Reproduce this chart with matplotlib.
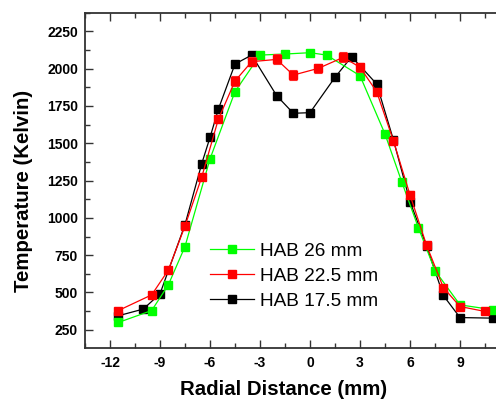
import matplotlib
matplotlib.use('Agg')
import matplotlib.pyplot as plt
from matplotlib.ticker import MultipleLocator

plt.rcParams['font.family'] = ['Liberation Sans', 'DejaVu Sans']

# HAB 26 mm
x_26 = [-11.5, -9.5, -8.5, -7.5, -6.0, -4.5, -3.0, -1.5, 0.0, 1.0, 3.0, 4.5, 5.5, 6.5, 7.5, 9.0, 11.0]
t_26 = [299, 379, 551, 808, 1395, 1846, 2091, 2098, 2107, 2091, 1953, 1562, 1243, 935, 647, 417, 384]

# HAB 22.5 mm (with error bars)
x_225 = [-11.5, -9.5, -8.5, -7.5, -6.5, -5.5, -4.5, -3.5, -2.0, -1.0, 0.5, 2.0, 3.0, 4.0, 5.0, 6.0, 7.0, 8.0, 9.0, 10.5]
t_225 = [379, 484, 650, 946, 1272, 1661, 1917, 2047, 2062, 1957, 2002, 2076, 2009, 1846, 1518, 1154, 815, 533, 406, 373]
e_225 = [10, 10, 12, 15, 15, 15, 35, 30, 33, 36, 30, 33, 30, 25, 20, 25, 15, 12, 12, 10]

# HAB 17.5 mm
x_175 = [-11.5, -10.0, -9.0, -7.5, -6.5, -6.0, -5.5, -4.5, -3.5, -2.0, -1.0, 0.0, 1.5, 2.5, 4.0, 5.0, 6.0, 7.0, 8.0, 9.0, 11.0]
t_175 = [344, 389, 491, 955, 1362, 1539, 1728, 2031, 2091, 1819, 1701, 1705, 1942, 2080, 1897, 1525, 1109, 810, 480, 332, 328]

x_ticks = [-12, -9, -6, -3, 0, 3, 6, 9, 12]
x_ticklabels = ['-12', '-9', '-6', '-3', '0', '3', '6', '9', '']
y_ticks = [250, 500, 750, 1000, 1250, 1500, 1750, 2000, 2250]

fig = plt.figure(figsize=(4.96, 4.01), dpi=100)
# axes runs past the right edge of the canvas
ax = fig.add_axes([85 / 496, (401 - 347.7) / 401, 450 / 496, 335 / 401])

ms = 5.2
l175, = ax.plot(x_175, t_175, '-s', color='black', lw=0.9, ms=ms, mec='black', zorder=2)
l26, = ax.plot(x_26, t_26, '-s', color='#00ff00', lw=0.9, ms=ms, mec='#00ff00', zorder=3)
eb = ax.errorbar(x_225, t_225, yerr=e_225, fmt='-s', color='red', lw=0.9, ms=ms, mec='red',
                 ecolor='#ff3030', elinewidth=0.8, capsize=3, capthick=0.8, zorder=4)

ax.set_xlim(-13.5, 13.5)
ax.set_ylim(130, 2375)
ax.set_xticks(x_ticks, x_ticklabels)
ax.xaxis.set_minor_locator(MultipleLocator(1.5))
ax.set_yticks(y_ticks)
ax.yaxis.set_minor_locator(MultipleLocator(125))

ax.tick_params(which='both', direction='in', top=True, right=False, width=1, colors='#333333',
               labelcolor='black')
ax.tick_params(which='major', length=6, labelsize=10)
ax.tick_params(axis='x', which='major', pad=6)
ax.tick_params(axis='y', which='major', pad=5)
ax.tick_params(which='minor', length=3.5)
for lab in ax.get_xticklabels() + ax.get_yticklabels():
    lab.set_fontweight('bold')
for s in ['left', 'top', 'bottom']:
    ax.spines[s].set_linewidth(1.3)
    ax.spines[s].set_color('#333333')
ax.spines['right'].set_visible(False)

ax.set_xlabel('Radial Distance (mm)', fontsize=14.7, fontweight='bold')
ax.set_ylabel('Temperature (Kelvin)', fontsize=14.7, fontweight='bold')
ax.xaxis.set_label_coords((284 - 85) / 450, -(380 - 347.7) / 335)
ax.yaxis.set_label_coords(-(85 - 33) / 450, 0.469)

ax.legend([l26, eb[0], l175], ['HAB 26 mm', 'HAB 22.5 mm', 'HAB 17.5 mm'],
          loc='center left', bbox_to_anchor=((210 - 85) / 450, (347.7 - 276) / 335),
          frameon=False, fontsize=13.7, handlelength=2.3, handletextpad=0.35,
          labelspacing=0.4, borderpad=0, borderaxespad=0)

fig.savefig('out.png', dpi=100)
